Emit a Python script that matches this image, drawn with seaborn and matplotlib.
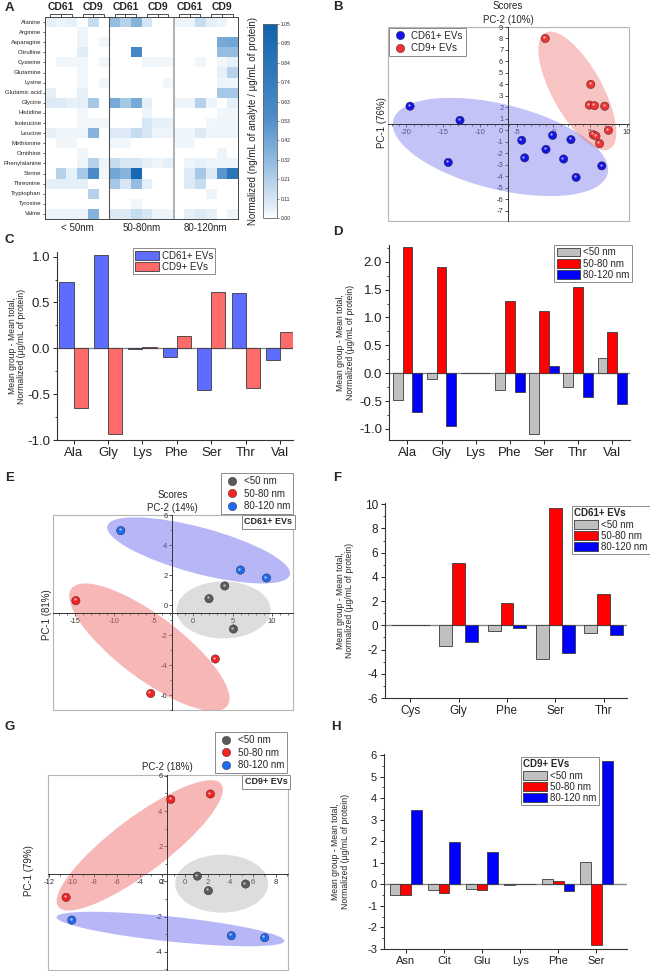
import numpy as np
import pandas as pd
import matplotlib
matplotlib.use('Agg')
import matplotlib.pyplot as plt
import matplotlib.transforms as mtransforms
import seaborn as sns
from matplotlib.colors import LinearSegmentedColormap
from matplotlib.patches import Ellipse, Rectangle, Patch
from matplotlib.lines import Line2D
from matplotlib.ticker import MultipleLocator

sns.set_theme(style='ticks')
plt.rcParams['font.family'] = ['Liberation Sans', 'DejaVu Sans']
plt.rcParams['axes.linewidth'] = 0.8
plt.rcParams['axes.unicode_minus'] = False

# --------------------------
# Data
# --------------------------
amino_acids = ['Alanine', 'Arginine', 'Asparagine', 'Citrulline', 'Cysteine', 'Glutamine',
               'Lysine', 'Glutamic acid', 'Glycine', 'Histidine', 'Isoleucine', 'Leucine',
               'Methionine', 'Ornithine', 'Phenylalanine', 'Serine', 'Threonine',
               'Tryptophan', 'Tyrosine', 'Valine']
size_groups = ['< 50nm', '50-80nm', '80-120nm']
markers = ['CD61', 'CD9']
heat_cols = [f'{s} {m} {r}' for s in size_groups for m in markers for r in (1, 2, 3)]
heat_values = [
    [.05, .04, .05, 0, .15, 0,   .30, .20, .35, .10, 0, 0,     .04, .04, .15, .06, .04, 0],
    [0, 0, 0, .04, 0, 0,         0, 0, 0, 0, 0, 0,             0, 0, 0, 0, 0, 0],
    [0, 0, 0, .04, 0, .03,       0, 0, 0, 0, 0, 0,             0, 0, 0, 0, .40, .42],
    [0, 0, 0, .07, 0, 0,         0, 0, .60, 0, 0, 0,           0, 0, 0, 0, .30, .30],
    [0, .03, .03, .03, 0, .03,   0, 0, 0, .03, .03, .03,       0, 0, .03, 0, .03, .05],
    [0, 0, 0, .03, 0, 0,         0, 0, 0, 0, 0, 0,             0, 0, 0, 0, .05, .20],
    [0, 0, 0, .03, 0, .03,       0, 0, 0, 0, 0, .03,           0, 0, 0, 0, .04, .04],
    [.06, 0, 0, .05, 0, 0,       0, 0, 0, 0, 0, 0,             0, 0, 0, 0, .25, .25],
    [.08, .08, .05, .06, .25, 0, .40, .25, .40, .05, 0, 0,     .04, .04, .20, .04, 0, .06],
    [0, 0, 0, .03, 0, 0,         0, 0, 0, .04, 0, 0,           0, 0, 0, 0, .03, .03],
    [0, 0, 0, .03, .03, .03,     0, 0, 0, .10, .05, .05,       0, 0, 0, .03, .04, .04],
    [.05, .04, .04, .04, .35, 0, .08, .08, .15, .10, .04, .04, .04, .04, .08, .04, .04, .04],
    [0, .03, .03, 0, 0, 0,       .03, .03, 0, 0, 0, 0,         .03, .03, 0, 0, 0, 0],
    [0, 0, 0, .03, 0, 0,         0, 0, 0, 0, 0, 0,             0, 0, 0, 0, .04, 0],
    [0, 0, 0, .04, .20, .04,     .15, .10, .10, .06, .04, .06, 0, .04, .05, .04, .04, .04],
    [0, .20, .05, .25, .55, .03, .42, .35, .98, 0, 0, 0,       0, .08, .25, .08, .50, .82],
    [.06, .06, .06, .06, 0, 0,   .25, .10, .30, .06, 0, 0,     0, .08, .15, 0, 0, 0],
    [0, 0, 0, 0, .20, 0,         0, 0, 0, 0, 0, 0,             0, 0, 0, .04, 0, 0],
    [0, 0, 0, 0, 0, 0,           0, 0, .03, 0, 0, 0,           0, 0, 0, 0, 0, 0],
    [.04, .04, .04, .04, .35, 0, .08, .08, .15, .10, .04, .04, 0, .06, .08, .06, 0, .04],
]
cbar_ticklabels = ['0.00', '0.11', '0.21', '0.32', '0.42', '0.53', '0.63', '0.74', '0.84', '0.95', '1.05']

# B: PCA scores, CD61+ vs CD9+
b_cd61_pc2 = [-19.5, -12.7, -14.3, -4.3, -3.9, -1.0, -0.1, 2.4, 1.4, 3.1, 6.6]
b_cd61_pc1 = [2.1, 0.87, -2.8, -0.87, -2.4, -1.66, -0.44, -0.81, -2.5, -4.1, -3.1]
b_cd9_pc2 = [-1.1, 5.1, 4.9, 5.6, 7.0, 7.5, 5.45, 5.8, 6.3]
b_cd9_pc1 = [8.0, 4.0, 2.2, 2.15, 2.1, 0.0, -0.38, -0.5, -1.16]

# E: PCA scores, CD61+ EVs by size
e_lt50_pc2, e_lt50_pc1 = [2.0, 4.0, 5.1], [0.42, 1.27, -1.6]
e_5080_pc2, e_5080_pc1 = [-14.9, -5.4, 2.8], [0.29, -5.9, -3.6]
e_80120_pc2, e_80120_pc1 = [-9.2, 6.0, 9.3], [4.96, 2.33, 1.8]

# G: PCA scores, CD9+ EVs by size
g_lt50_pc2, g_lt50_pc1 = [1.09, 2.06, 5.35], [0.30, -0.53, -0.15]
g_5080_pc2, g_5080_pc1 = [-1.26, 2.24, -10.5], [4.66, 4.97, -0.91]
g_80120_pc2, g_80120_pc1 = [-10.0, 4.09, 7.03], [-2.2, -3.09, -3.2]

size_labels = ['<50 nm', '50-80 nm', '80-120 nm']

# C
c_aa = ['Ala', 'Gly', 'Lys', 'Phe', 'Ser', 'Thr', 'Val']
c_cd61 = [0.72, 1.02, -0.005, -0.095, -0.45, 0.60, -0.13]
c_cd9 = [-0.65, -0.94, 0.015, 0.13, 0.61, -0.43, 0.18]

# D
d_aa = ['Ala', 'Gly', 'Lys', 'Phe', 'Ser', 'Thr', 'Val']
d_lt50 = [-0.48, -0.11, 0.0, -0.31, -1.10, -0.24, 0.27]
d_5080 = [2.27, 1.91, 0.0, 1.29, 1.11, 1.54, 0.73]
d_80120 = [-0.70, -0.95, 0.0, -0.34, 0.12, -0.43, -0.55]

# F
f_aa = ['Cys', 'Gly', 'Phe', 'Ser', 'Thr']
f_lt50 = [0.0, -1.73, -0.47, -2.82, -0.63]
f_5080 = [0.0, 5.18, 1.84, 9.67, 2.55]
f_80120 = [0.0, -1.34, -0.22, -2.27, -0.79]

# H
h_aa = ['Asn', 'Cit', 'Glu', 'Lys', 'Phe', 'Ser']
h_lt50 = [-0.48, -0.28, -0.22, -0.01, 0.26, 1.06]
h_5080 = [-0.51, -0.38, -0.28, 0.0, 0.17, -2.82]
h_80120 = [3.46, 1.95, 1.48, 0.0, -0.31, 5.72]

# --------------------------
# Layout helpers
# --------------------------
W, H = 650, 971
fig = plt.figure(figsize=(W / 100, H / 100), dpi=100)


def add_axes_px(x0, y0, x1, y1):
    return fig.add_axes([x0 / W, 1 - y1 / H, (x1 - x0) / W, (y1 - y0) / H])


def panel_letter(x, y, s):
    fig.text(x / W, 1 - y / H, s, fontsize=9.5, weight='bold', ha='center', va='center')


ylabel_bar = 'Mean group - Mean total,\nNormalized (µg/mL of protein)'

# --------------------------
# A: heatmap
# --------------------------
axA = add_axes_px(45, 17, 238, 219)
cax = add_axes_px(263, 24, 277, 218)
heat_df = pd.DataFrame(heat_values, index=amino_acids, columns=heat_cols)
cmap = LinearSegmentedColormap.from_list(
    'wb', [(0.0, '#ffffff'), (0.048, '#e6f0f8'), (0.286, '#94bde1'),
           (0.524, '#4b8cc8'), (1.0, '#0e63ad')])
sns.heatmap(heat_df, ax=axA, cbar_ax=cax, cmap=cmap, vmin=0, vmax=1.05,
            xticklabels=False, yticklabels=True,
            cbar_kws={'ticks': np.linspace(0, 1.05, 11)})
for s in axA.spines.values():
    s.set_visible(True)
    s.set_color('#444444')
    s.set_linewidth(0.7)
axA.set_xlabel('')
axA.set_ylabel('')
axA.set_yticklabels(amino_acids, fontsize=4.3, rotation=0)
axA.tick_params(axis='y', left=True, length=1.8, width=0.5, pad=0.8)
axA.set_xticks([3, 9, 15])
axA.set_xticklabels(size_groups, fontsize=7)
axA.tick_params(axis='x', length=0, pad=3)
axA.axvline(6, color='#555555', lw=0.8)
axA.axvline(12, color='#b0b0b0', lw=1.4)
blend = mtransforms.blended_transform_factory(axA.transData, axA.transAxes)
for g in range(3):
    for m, lab in enumerate(markers):
        c0 = 6 * g + 3 * m
        xs = [c0 + 0.5, c0 + 1.5, c0 + 2.5]
        axA.plot([xs[0], xs[0], xs[2], xs[2]], [1.0, 1.017, 1.017, 1.0], transform=blend,
                 color='#333333', lw=0.6, clip_on=False)
        axA.plot([xs[1], xs[1]], [1.0, 1.017], transform=blend, color='#333333', lw=0.6,
                 clip_on=False)
        axA.text(xs[1], 1.05, lab, transform=blend, ha='center', va='center',
                 fontsize=7.5, weight='bold')
cbar = axA.collections[0].colorbar
cbar.set_ticks(np.linspace(0, 1.05, 11), labels=cbar_ticklabels)
cbar.outline.set_edgecolor('#666666')
cbar.outline.set_linewidth(0.6)
cax.tick_params(labelsize=3.6, length=1.5, width=0.4, pad=1)
cax.yaxis.set_label_position('left')
cax.set_ylabel('Normalized (ng/mL of analyte / µg/mL of protein)', fontsize=7)
cax.yaxis.label.set_verticalalignment('center')
cax.yaxis.set_label_coords(-0.75, 0.5)


# --------------------------
# Score plots (B, E, G)
# --------------------------
def scores_panel(ax, frame, hue_order, palette, ellipses, xlim, ylim, cross,
                 xmaj, xmin, ymaj, ymin, ylabel, ylabel_xy):
    for cx, cy, w, h, ang, col, alpha in ellipses:
        ax.add_patch(Ellipse((0, 0), w, h, angle=ang, facecolor=col, edgecolor='none',
                             alpha=alpha, zorder=1,
                             transform=mtransforms.ScaledTranslation(cx, cy, ax.transData)))
    sns.scatterplot(data=frame, x='pc2', y='pc1', hue='group', hue_order=hue_order,
                    palette=palette, s=36, edgecolor='#202020', linewidth=0.3,
                    legend=False, zorder=4, ax=ax)
    hl = mtransforms.ScaledTranslation(-0.9 / 72, 0.9 / 72, fig.dpi_scale_trans)
    ax.scatter(frame['pc2'], frame['pc1'], s=3, color='white', alpha=0.6, linewidth=0,
               zorder=5, transform=ax.transData + hl)
    ax.set_xlim(xlim)
    ax.set_ylim(ylim)
    ax.spines['left'].set_position(('data', cross[0]))
    ax.spines['bottom'].set_position(('data', cross[1]))
    ax.spines['top'].set_visible(False)
    ax.spines['right'].set_visible(False)
    for s in ('left', 'bottom'):
        ax.spines[s].set_color('#333333')
        ax.spines[s].set_linewidth(0.7)
    ax.add_patch(Rectangle((0, 0), 1, 1, transform=ax.transAxes, fill=False,
                           edgecolor='#b5b5b5', lw=0.8, clip_on=False, zorder=0))
    ax.xaxis.set_major_locator(MultipleLocator(xmaj))
    ax.yaxis.set_major_locator(MultipleLocator(ymaj))
    if xmin:
        ax.xaxis.set_minor_locator(MultipleLocator(xmin))
    if ymin:
        ax.yaxis.set_minor_locator(MultipleLocator(ymin))
    ax.tick_params(which='major', direction='out', length=2.5, width=0.6,
                   labelsize=5.5, pad=1, colors='#333333')
    ax.tick_params(which='minor', direction='out', length=1.4, width=0.5, colors='#333333')
    ax.set_xlabel('')
    ax.set_ylabel(ylabel, fontsize=7, va='center')
    ax.yaxis.set_label_coords(*ylabel_xy)


def ball_handles(colors, labels):
    return [Line2D([], [], ls='', marker='o', markersize=6, markerfacecolor=c,
                   markeredgecolor='#202020', markeredgewidth=0.3, label=l)
            for c, l in zip(colors, labels)]


def score_legend(ax, colors, labels, **kw):
    leg = ax.legend(handles=ball_handles(colors, labels), frameon=True, fancybox=False,
                    edgecolor='#8a8a8a', framealpha=1, fontsize=7, handletextpad=0.4,
                    labelspacing=0.25, borderpad=0.3, borderaxespad=0, handlelength=1.6, **kw)
    leg.get_frame().set_linewidth(0.7)
    return leg


def top_text(ax, x, y, s):
    t = mtransforms.blended_transform_factory(ax.transData, ax.transAxes)
    ax.text(x, y, s, transform=t, ha='center', va='center', fontsize=7)


def group_box(ax, s):
    ax.text(0.997, 0.988, s, transform=ax.transAxes, ha='right', va='top', fontsize=6.5,
            weight='bold', zorder=6,
            bbox=dict(boxstyle='square,pad=0.25', fc='white', ec='#8a8a8a', lw=0.7))


# B
axB = add_axes_px(388, 27, 629, 221)
b_frame = pd.DataFrame({
    'pc2': b_cd61_pc2 + b_cd9_pc2,
    'pc1': b_cd61_pc1 + b_cd9_pc1,
    'group': ['CD61+ EVs'] * len(b_cd61_pc2) + ['CD9+ EVs'] * len(b_cd9_pc2),
})
b_colors = ['#1414e6', '#f03232']
scores_panel(axB, b_frame, ['CD61+ EVs', 'CD9+ EVs'], b_colors,
             [(-7.2, -1.45, 221, 85, -14, '#7b7bef', 0.45),
              (3.27, 3.43, 133, 50, -61, '#f07a7a', 0.45)],
             (-22.5, 10.3), (-7.9, 9.0), (-6.14, 0.52), 5, 1, 1, None,
             'PC-1 (76%)', (-0.025, 0.505))
top_text(axB, -6.14, 1.108, 'Scores')
top_text(axB, -6.14, 1.036, 'PC-2 (10%)')
score_legend(axB, b_colors, ['CD61+ EVs', 'CD9+ EVs'], loc='upper left',
             bbox_to_anchor=(0.004, 0.996))

size_colors = ['#5a5a5a', '#f52222', '#1f6af0']

# E
axE = add_axes_px(53, 515, 293, 710)
e_frame = pd.DataFrame({
    'pc2': e_lt50_pc2 + e_5080_pc2 + e_80120_pc2,
    'pc1': e_lt50_pc1 + e_5080_pc1 + e_80120_pc1,
    'group': np.repeat(size_labels, 3),
})
scores_panel(axE, e_frame, size_labels, size_colors,
             [(0.68, 3.64, 189, 46, -15, '#7070f0', 0.5),
              (3.84, -0.33, 94, 57, 0, '#a0a0a0', 0.35),
              (-5.57, -2.82, 195, 63, -37, '#f07070', 0.5)],
             (-17.8, 12.66), (-7.0, 6.0), (-2.66, -0.51), 5, 1, 2, 1,
             'PC-1 (81%)', (-0.025, 0.49))
top_text(axE, -2.66, 1.10, 'Scores')
top_text(axE, -2.66, 1.036, 'PC-2 (14%)')
score_legend(axE, size_colors, size_labels, loc='lower right', bbox_to_anchor=(1.0, 1.005))
group_box(axE, 'CD61+ EVs')

# G
axG = add_axes_px(48, 775, 288, 970)
g_frame = pd.DataFrame({
    'pc2': g_lt50_pc2 + g_5080_pc2 + g_80120_pc2,
    'pc1': g_lt50_pc1 + g_5080_pc1 + g_80120_pc1,
    'group': np.repeat(size_labels, 3),
})
scores_panel(axG, g_frame, size_labels, size_colors,
             [(-4.0, 2.05, 204, 55, 37, '#f07070', 0.5),
              (3.24, -0.13, 93, 58, 0, '#a0a0a0', 0.35),
              (-1.29, -2.71, 229, 25, -6, '#7070f0', 0.5)],
             (-12.1, 9.09), (-5.04, 6.05), (-1.56, 0.42), 2, 1, 2, 1,
             'PC-1 (79%)', (-0.08, 0.51))
top_text(axG, -1.56, 1.041, 'PC-2 (18%)')
score_legend(axG, size_colors, size_labels, loc='lower right', bbox_to_anchor=(0.996, 1.01))
group_box(axG, 'CD9+ EVs')


# --------------------------
# Bar plots (C, D, F, H)
# --------------------------
def bar_panel(ax, cats, series, names, colors, width, xlim, ylim, ymaj, ymin,
              fs, legend_kw, title=None):
    frame = pd.DataFrame({
        'aa': np.tile(cats, len(series)),
        'group': np.repeat(names, len(cats)),
        'value': np.concatenate(series),
    })
    sns.barplot(data=frame, x='aa', y='value', hue='group', hue_order=names,
                palette=colors, saturation=1, width=width, edgecolor='#3a3a3a',
                linewidth=0.6, errorbar=None, legend=False, zorder=2, ax=ax)
    ax.axhline(0, color='#8a8a8a', lw=1.0, zorder=1.5)
    ax.set_xlim(xlim)
    ax.set_ylim(ylim)
    ax.spines['top'].set_visible(False)
    ax.spines['right'].set_visible(False)
    for s in ('left', 'bottom'):
        ax.spines[s].set_color('#333333')
        ax.spines[s].set_linewidth(0.8)
    ax.yaxis.set_major_locator(MultipleLocator(ymaj))
    ax.yaxis.set_minor_locator(MultipleLocator(ymin))
    ax.tick_params(which='major', direction='out', length=3, width=0.7, labelsize=fs,
                   pad=2, colors='#222222')
    ax.tick_params(which='minor', axis='y', direction='out', length=1.6, width=0.6)
    ax.set_xlabel('')
    ax.set_ylabel(ylabel_bar, fontsize=6.2, va='center', linespacing=1.1)
    handles = [Patch(facecolor=c, edgecolor='#3a3a3a', lw=0.6, label=n)
               for c, n in zip(colors, names)]
    kw = dict(frameon=True, fancybox=False, edgecolor='#8a8a8a', framealpha=1, fontsize=7,
              handlelength=2.4, handleheight=1.0, handletextpad=0.3, labelspacing=0.12,
              borderpad=0.25, borderaxespad=0)
    if title:
        kw.update(title=title, title_fontproperties={'weight': 'bold', 'size': 7},
                  alignment='left')
    kw.update(legend_kw)
    leg = ax.legend(handles=handles, **kw)
    leg.get_frame().set_linewidth(0.7)


bar_colors = ['#c0c0c0', '#ff0000', '#0000ff']

# C
axC = add_axes_px(57, 252, 293, 440)
bar_panel(axC, c_aa, [c_cd61, c_cd9], ['CD61+ EVs', 'CD9+ EVs'], ['#5e6cff', '#ff6b6b'],
          0.82, (-0.48, 6.37), (-1.0, 1.05), 0.5, 0.25, 9.5,
          dict(loc='upper left', bbox_to_anchor=(0.322, 1.02)))
axC.yaxis.set_label_coords(-0.17, 0.5)

# D
axD = add_axes_px(389, 245, 630, 440)
bar_panel(axD, d_aa, [d_lt50, d_5080, d_80120], size_labels, bar_colors,
          0.86, (-0.54, 6.52), (-1.2, 2.3), 0.5, 0.25, 9.5,
          dict(loc='upper right', bbox_to_anchor=(1.008, 1.0)))
axD.yaxis.set_label_coords(-0.18, 0.5)

# F
axF = add_axes_px(385, 503, 627, 698)
bar_panel(axF, f_aa, [f_lt50, f_5080, f_80120], size_labels, bar_colors,
          0.8, (-0.52, 4.48), (-6.0, 10.1), 2, 1, 8.5,
          dict(loc='upper left', bbox_to_anchor=(0.773, 0.985)), title='CD61+ EVs')
axF.yaxis.set_label_coords(-0.165, 0.5)

# H
axH = add_axes_px(384, 754, 627, 949)
bar_panel(axH, h_aa, [h_lt50, h_5080, h_80120], size_labels, bar_colors,
          0.84, (-0.57, 5.8), (-3.0, 6.05), 1, 0.5, 8,
          dict(loc='upper left', bbox_to_anchor=(0.564, 0.985)), title='CD9+ EVs')
axH.yaxis.set_label_coords(-0.18, 0.5)

# --------------------------
# Panel letters
# --------------------------
for x, y, s in [(9, 8, 'A'), (338, 7, 'B'), (9, 240, 'C'), (338, 232, 'D'),
                (10, 478, 'E'), (337, 478, 'F'), (10, 727, 'G'), (336, 727, 'H')]:
    panel_letter(x, y, s)

fig.savefig('out.png', dpi=100)
plt.close(fig)
